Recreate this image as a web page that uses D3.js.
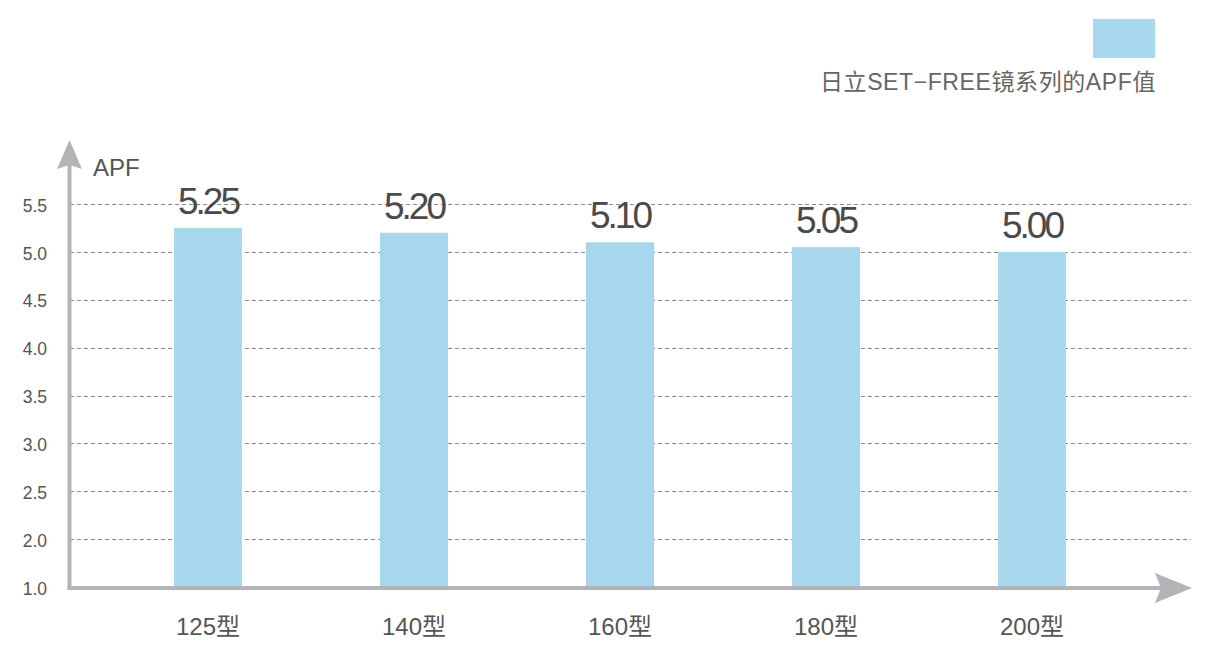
<!DOCTYPE html>
<html><head><meta charset="utf-8">
<script src="https://cdn.jsdelivr.net/npm/d3@7"></script>
<style>
html,body{margin:0;padding:0;background:#fff;}
svg{display:block;font-family:"Liberation Sans",Arial,"Noto Sans CJK SC",sans-serif;}
</style></head>
<body>
<svg id="chart" width="1225" height="654"></svg>
<script>
const categories = ["125型","140型","160型","180型","200型"];
const values = [5.25, 5.20, 5.10, 5.05, 5.00];
const valueLabels = ["5.25","5.20","5.10","5.05","5.00"];
const tickValues = [1.5, 2.0, 2.5, 3.0, 3.5, 4.0, 4.5, 5.0, 5.5];
const tickLabels = ["1.0","2.0","2.5","3.0","3.5","4.0","4.5","5.0","5.5"];
const seriesName = "日立SET−FREE镜系列的APF值";
const yTitle = "APF";

const svg = d3.select("#chart");
const axisColor = "#b4b4b8";
const barColor = "#a6d7ec";
const textColor = "#555";

const x = d3.scaleBand().domain(categories).range([105, 1135]).paddingInner(0.67).paddingOuter(0.335);
const y = d3.scaleLinear().domain([1.5, 5.5]).range([587, 204]);

// gridlines
svg.append("g").selectAll("line").data(tickValues.slice(1)).join("line")
  .attr("x1", 70).attr("x2", 1191)
  .attr("y1", d => Math.round(y(d)) + 0.5).attr("y2", d => Math.round(y(d)) + 0.5)
  .attr("stroke", "#8a8a8a").attr("stroke-width", 1).attr("stroke-dasharray", "4,3");

// y tick labels
svg.append("g").selectAll("text").data(tickValues).join("text")
  .attr("x", 47).attr("y", d => y(d) + 3)
  .attr("text-anchor", "end").attr("dominant-baseline", "middle")
  .attr("font-size", 17.5).attr("fill", textColor)
  .text((d, i) => tickLabels[i]);

// bars
svg.append("g").selectAll("rect").data(values).join("rect")
  .attr("x", (d, i) => x(categories[i]))
  .attr("width", x.bandwidth())
  .attr("y", d => y(d))
  .attr("height", d => y(1.5) - y(d))
  .attr("fill", barColor);

// value labels
svg.append("g").selectAll("text").data(values).join("text")
  .attr("x", (d, i) => x(categories[i]) + x.bandwidth() / 2)
  .attr("y", d => y(d) - 14)
  .attr("text-anchor", "middle")
  .attr("font-size", 37).attr("letter-spacing", -3).attr("fill", "#4a4a4a")
  .text((d, i) => valueLabels[i]);

// x labels
svg.append("g").selectAll("text").data(categories).join("text")
  .attr("x", d => x(d) + x.bandwidth() / 2)
  .attr("y", 635)
  .attr("text-anchor", "middle")
  .attr("font-size", 24).attr("fill", textColor)
  .text(d => d);

// axes
svg.append("line").attr("x1", 69.5).attr("x2", 69.5).attr("y1", 165).attr("y2", 590)
  .attr("stroke", axisColor).attr("stroke-width", 4);
svg.append("path").attr("d", "M69.5,140 L82,169 L69.5,165 L57,169 Z").attr("fill", axisColor);
svg.append("line").attr("x1", 67.5).attr("x2", 1165).attr("y1", 588).attr("y2", 588)
  .attr("stroke", axisColor).attr("stroke-width", 4);
svg.append("path").attr("d", "M1192,588 L1155,573 L1161,588 L1155,603 Z").attr("fill", axisColor);

// y title
svg.append("text").attr("x", 93).attr("y", 176).attr("font-size", 24).attr("fill", textColor).text(yTitle);

// legend
svg.append("rect").attr("x", 1093).attr("y", 19).attr("width", 62).attr("height", 39).attr("fill", barColor);
svg.append("text").attr("x", 1156).attr("y", 90).attr("text-anchor", "end")
  .attr("font-size", 23).attr("letter-spacing", 0.6).attr("fill", "#666").text(seriesName);
</script>
</body></html>
